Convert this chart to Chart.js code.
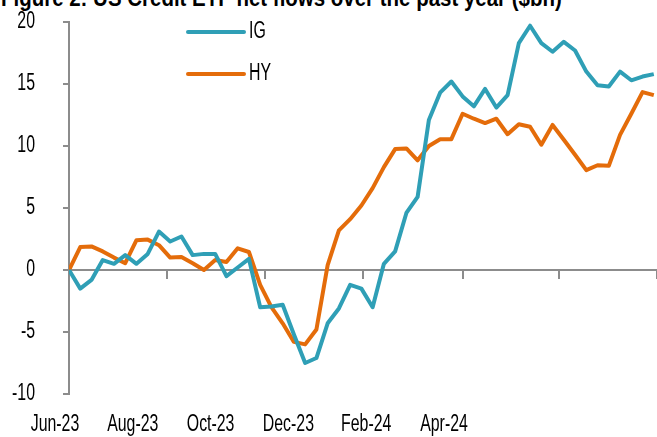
<!DOCTYPE html>
<html>
<head>
<meta charset="utf-8">
<script src="https://cdn.jsdelivr.net/npm/chart.js@4.4.1/dist/chart.umd.min.js"></script>
<style>
  html, body { margin: 0; padding: 0; background: #fff; overflow: hidden; }
  #wrap { position: relative; width: 657px; height: 437px; overflow: hidden; }
  #title { position: absolute; left: 1px; top: -15px; white-space: nowrap;
    font: bold 23px 'Liberation Sans', Arial, sans-serif; line-height: 26px; color: #000;
    transform: scaleX(0.89); transform-origin: 0 0; }
  canvas { position: absolute; left: 0; top: 0; }
</style>
</head>
<body>
<div id="wrap">
  <div id="title">Figure 2: US Credit ETF net flows over the past year ($bn)</div>
  <canvas id="c" width="657" height="437"></canvas>
</div>
<script>
// Weekly cumulative net flows ($bn), first week of Jun-23 to end of May-24
const igFlows = [0, -1.5, -0.8, 0.8, 0.5, 1.2, 0.5, 1.3, 3.1, 2.3, 2.7, 1.2, 1.3, 1.3, -0.5, 0.2, 0.9,
  -3.0, -2.95, -2.8, -5.2, -7.5, -7.1, -4.3, -3.1, -1.2, -1.5, -3.0, 0.5, 1.5, 4.6, 5.9, 12.1, 14.3,
  15.2, 14.0, 13.2, 14.6, 13.1, 14.1, 18.3, 19.7, 18.3, 17.6, 18.4, 17.7, 16.0, 14.9, 14.8, 16.0,
  15.3, 15.6, 15.8];
const hyFlows = [0, 1.85, 1.9, 1.5, 1.0, 0.55, 2.4, 2.45, 2.0, 1.0, 1.05, 0.55, 0.0, 0.8, 0.65, 1.75,
  1.45, -1.2, -3.0, -4.3, -5.8, -6.0, -4.8, 0.4, 3.2, 4.1, 5.2, 6.6, 8.3, 9.75, 9.8, 8.85, 10.0,
  10.55, 10.55, 12.6, 12.2, 11.85, 12.2, 10.95, 11.75, 11.55, 10.1, 11.7, 10.5, 9.3, 8.05, 8.45,
  8.4, 10.9, 12.6, 14.35, 14.1];
const seriesNames = ['IG', 'HY'];
const tickLabels = ['Jun-23', 'Aug-23', 'Oct-23', 'Dec-23', 'Feb-24', 'Apr-24'];
const monthTickDays = [0, 61, 122, 183, 245, 305, 366]; // day offsets of month starts
const yTicks = [-10, -5, 0, 5, 10, 15, 20];

const FONT = "'Liberation Sans', Arial, sans-serif";
const AXIS = '#8c8c8c';
const colors = ['#2f9fb6', '#e46c0a'];
const SQUEEZE = 0.69; // narrow typeface look

const toPts = arr => arr.map((v, i) => ({ x: i, y: v }));

function drawNarrow(ctx, text, x, y) {
  ctx.save();
  ctx.translate(x, y);
  ctx.scale(SQUEEZE, 1);
  ctx.fillText(text, 0, 0);
  ctx.restore();
}

const labelPlugin = {
  id: 'narrowLabels',
  afterDraw(chart) {
    const { ctx, scales } = chart;
    ctx.save();
    ctx.fillStyle = '#000';
    ctx.font = '23px ' + FONT;
    ctx.textBaseline = 'middle';
    // y tick labels
    ctx.textAlign = 'right';
    scales.y.ticks.forEach(t => {
      drawNarrow(ctx, String(t.value), scales.y.right - 34, scales.y.getPixelForValue(t.value));
    });
    // x category labels
    ctx.textAlign = 'center';
    scales.xl.ticks.forEach(t => {
      drawNarrow(ctx, tickLabels[t.value], scales.xl.getPixelForValue(t.value), scales.xl.top + 31);
    });
    // legend
    const ys = [32, 74];
    chart.data.datasets.forEach((ds, i) => {
      ctx.strokeStyle = ds.borderColor;
      ctx.lineWidth = 4;
      ctx.lineCap = 'round';
      ctx.beginPath();
      ctx.moveTo(188, ys[i]);
      ctx.lineTo(244, ys[i]);
      ctx.stroke();
      ctx.textAlign = 'left';
      drawNarrow(ctx, ds.label, 249, ys[i]);
    });
    ctx.restore();
  }
};

new Chart(document.getElementById('c'), {
  type: 'line',
  data: {
    datasets: [
      { label: seriesNames[0], data: toPts(igFlows), borderColor: colors[0], borderWidth: 4,
        pointRadius: 0, tension: 0, borderJoinStyle: 'round', borderCapStyle: 'butt', xAxisID: 'x', yAxisID: 'y' },
      { label: seriesNames[1], data: toPts(hyFlows), borderColor: colors[1], borderWidth: 4,
        pointRadius: 0, tension: 0, borderJoinStyle: 'round', borderCapStyle: 'butt', xAxisID: 'x', yAxisID: 'y' }
    ]
  },
  options: {
    responsive: false,
    animation: false,
    events: [],
    layout: { padding: { top: 22, right: 0, left: 0, bottom: 0 } },
    plugins: { legend: { display: false }, tooltip: { enabled: false }, title: { display: false } },
    scales: {
      x: {
        type: 'linear',
        position: { y: 0 },
        min: 0,
        max: monthTickDays[monthTickDays.length - 1] / 7,
        afterBuildTicks: s => { s.ticks = monthTickDays.map(d => ({ value: d / 7 })); },
        afterFit: s => { s.height = 0; s.paddingLeft = 0; s.paddingRight = 0; s.paddingTop = 0; s.paddingBottom = 0; },
        ticks: { display: false },
        grid: { drawOnChartArea: false, drawTicks: true, tickLength: 8, color: AXIS, lineWidth: 2 },
        border: { display: true, color: AXIS, width: 2 }
      },
      xl: {
        type: 'linear',
        position: 'bottom',
        min: 0.18,
        max: 0.18 + 588 / 77.8,
        afterBuildTicks: s => { s.ticks = tickLabels.map((t, i) => ({ value: i })); },
        afterFit: s => { s.height = 43; s.paddingLeft = 0; s.paddingRight = 0; },
        ticks: { display: false },
        grid: { display: false, drawTicks: false },
        border: { display: false }
      },
      y: {
        min: -10, max: 20,
        afterBuildTicks: s => { s.ticks = yTicks.map(v => ({ value: v })); },
        afterFit: s => { s.width = 69; s.paddingTop = 0; s.paddingBottom = 0; },
        ticks: { display: false },
        grid: { drawOnChartArea: false, drawTicks: true, tickLength: 6, color: AXIS, lineWidth: 2 },
        border: { display: true, color: AXIS, width: 2 }
      }
    }
  },
  plugins: [labelPlugin]
});
</script>
</body>
</html>
